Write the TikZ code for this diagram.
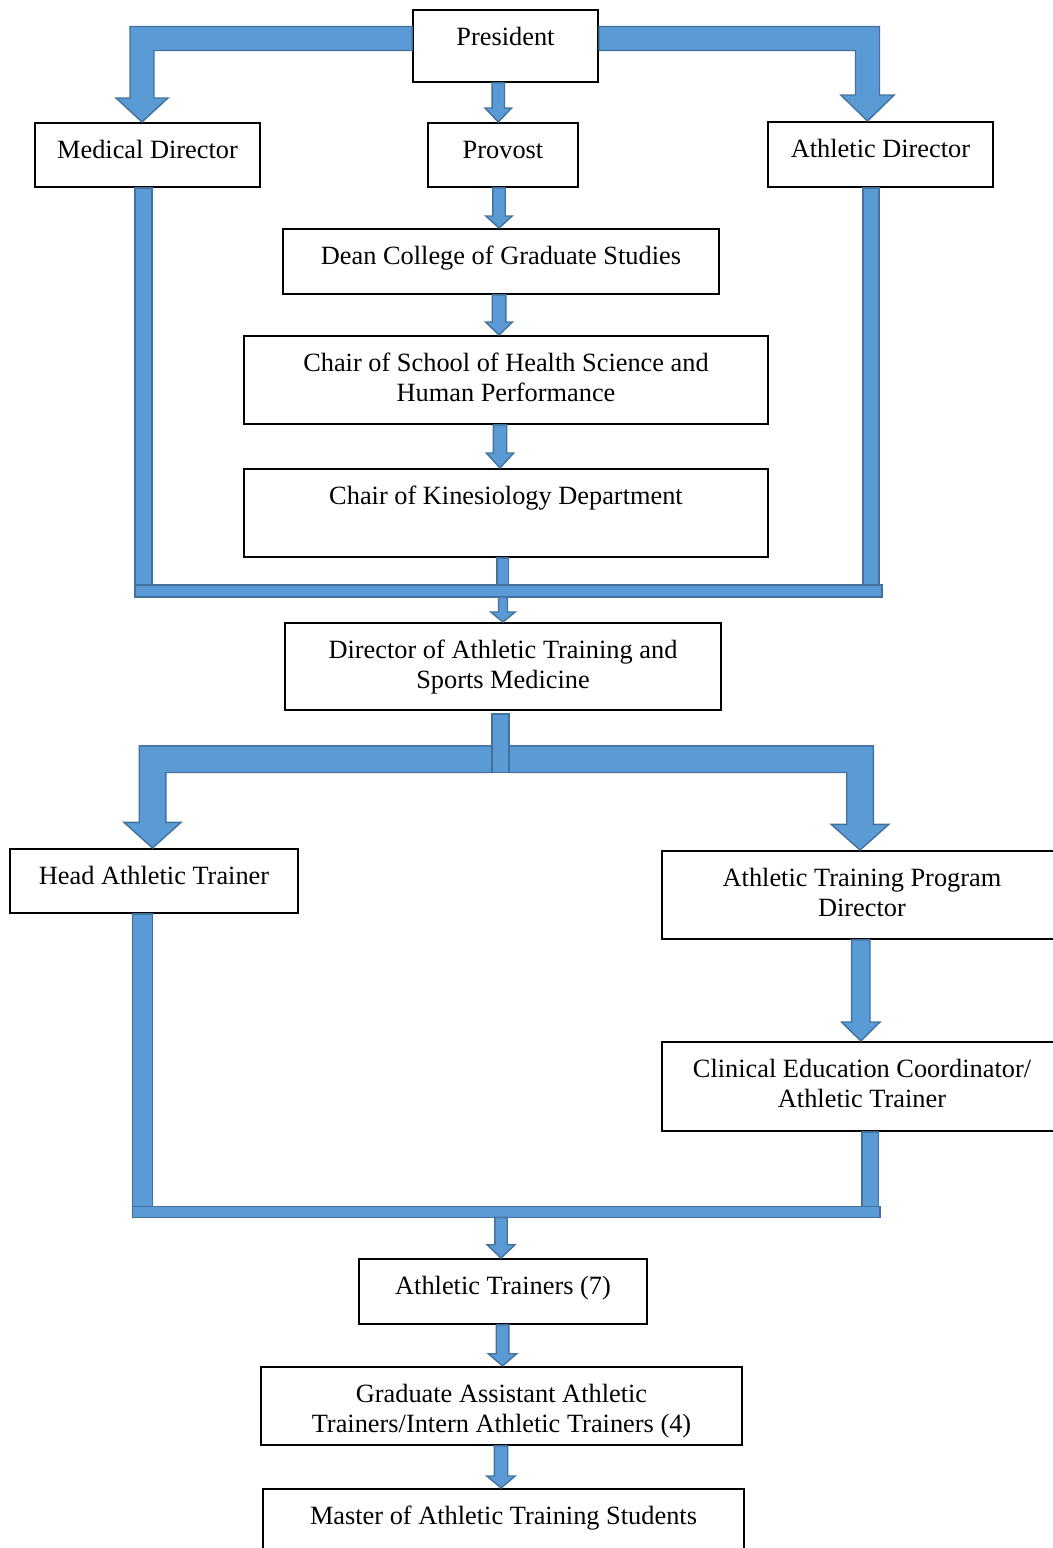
\documentclass[tikz,border=0pt]{standalone}
\usepackage{fontspec}
\setmainfont{Liberation Serif}
\usetikzlibrary{calc}

\definecolor{arrowfill}{HTML}{5B9BD5}
\definecolor{arrowline}{HTML}{41719C}

% one pixel of the layout
\def\pxu{0.569pt}

% straight block arrow: from, to, shaft half width, head half width, head length
\newcommand\blockdown[5]{%
    \draw [blockarrow] let \p1=(#1), \p2=(#2) in
        ({\x1-#3*\pxu},\y1) -- ({\x1+#3*\pxu},\y1) -- ({\x1+#3*\pxu},{\y2+#5*\pxu})
        -- ({\x1+#4*\pxu},{\y2+#5*\pxu}) -- (\x1,\y2) -- ({\x1-#4*\pxu},{\y2+#5*\pxu})
        -- ({\x1-#3*\pxu},{\y2+#5*\pxu}) -- cycle;}

% bent block arrow: start, tip, band half width, head half width, head length, side
\newcommand\blockelbow[6]{%
    \draw [blockarrow] let \p1=(#1), \p2=(#2) in
        (\x1,{\y1+#3*\pxu}) -- ({\x2+(#6)*#3*\pxu},{\y1+#3*\pxu})
        -- ({\x2+(#6)*#3*\pxu},{\y2+#5*\pxu}) -- ({\x2+(#6)*#4*\pxu},{\y2+#5*\pxu})
        -- (\x2,\y2) -- ({\x2-(#6)*#4*\pxu},{\y2+#5*\pxu})
        -- ({\x2-(#6)*#3*\pxu},{\y2+#5*\pxu}) -- ({\x2-(#6)*#3*\pxu},{\y1-#3*\pxu})
        -- (\x1,{\y1-#3*\pxu}) -- cycle;}

% plain bar going down: top, bottom level, half width
\newcommand\blockbar[3]{%
    \draw [blockarrow] let \p1=(#1), \p2=(#2) in
        ({\x1-#3*\pxu},\y1) rectangle ({\x1+#3*\pxu},\y2);}

\begin{document}
\begin{tikzpicture}[x=0.02cm, y=-0.02cm,
    box/.style={draw, line width=1.1pt, fill=white, inner sep=0pt, anchor=north,
        align=flush center, text height=0.72cm, font=\fontsize{15}{17}\selectfont},
    blockarrow/.style={draw=arrowline, fill=arrowfill, line width=0.8pt}]
    \path [use as bounding box, clip] (0,0) rectangle (1053,1548);

    % Boxes
    \node (pres) [box, text width=3.7cm, text depth=0.72cm] at (505.5,9) {President};
    \node (med) [box, text width=4.5cm, text depth=0.56cm] at (147.5,122) {Medical Director};
    \node (prov) [box, text width=3cm, text depth=0.56cm] at (503,122) {Provost};
    \node (athd) [box, text width=4.5cm, text depth=0.58cm] at (880.5,121) {Athletic Director};
    \node (dean) [box, text width=8.72cm, text depth=0.58cm] at (501,228)
        {Dean College of Graduate Studies};
    \node (chs) [box, text width=10.48cm, text depth=1.04cm] at (506,335)
        {Chair of School of Health Science and\\Human Performance};
    \node (kin) [box, text width=10.48cm, text depth=1.04cm] at (506,468)
        {Chair of Kinesiology Department};
    \node (datsm) [box, text width=8.72cm, text depth=1.02cm] at (503,622)
        {Director of Athletic Training and\\Sports Medicine};
    \node (hat) [box, text width=5.76cm, text depth=0.56cm] at (154,848) {Head Athletic Trainer};
    \node (atpd) [box, text width=8cm, text depth=1.04cm] at (862,850)
        {Athletic Training Program\\Director};
    \node (ced) [box, text width=8cm, text depth=1.06cm] at (862,1041)
        {Clinical Education Coordinator/\\Athletic Trainer};
    \node (at7) [box, text width=5.76cm, text depth=0.58cm] at (503,1258) {Athletic Trainers (7)};
    \node (ga) [box, text width=9.62cm, text depth=0.84cm] at (501.5,1366)
        {Graduate Assistant Athletic\\Trainers/Intern Athletic Trainers (4)};
    \node (mats) [box, text width=9.62cm, text depth=1.04cm] at (503.5,1488)
        {Master of Athletic Training Students};

    % Ends of the joining bars
    \coordinate (topL) at (135,585);
    \coordinate (topR) at (882,597);
    \coordinate (botL) at (132.7,1206.7);
    \coordinate (botR) at (880,1217.3);

    % From the president
    \blockelbow{$(pres.west)+(0,-7.5)$}{$(med.north)+(-5.5,0)$}{12}{26}{24}{-1}
    \blockelbow{$(pres.east)+(0,-7.5)$}{$(athd.north)+(-13,0)$}{12}{26.7}{26}{1}
    \blockdown{$(pres.south)+(-7.2,0)$}{prov.north}{6.2}{13.3}{14}
    \blockdown{$(prov.south)+(-4,0)$}{dean.north}{6.2}{13.2}{12}
    \blockdown{$(dean.south)+(-2,0)$}{chs.north}{6.8}{13.5}{13}
    \blockdown{$(chs.south)+(-6,0)$}{kin.north}{6.7}{13.7}{15}

    % Joining above the director
    \blockbar{$(med.south)+(-4,0)$}{topL}{8.5}
    \blockbar{$(athd.south)+(-9.5,0)$}{topL}{8}
    \blockbar{$(kin.south)+(-3.5,0)$}{topL}{5.7}
    \draw [blockarrow] (topL) rectangle (topR);
    \blockdown{datsm.north |- topR}{datsm.north}{4.5}{12.2}{10}

    % Split below the director
    \blockelbow{$(datsm.south)+(-11,48.3)$}{$(hat.north)+(-1.5,0)$}{13.3}{28.5}{25.6}{-1}
    \blockelbow{$(datsm.south)+(6,48.3)$}{$(atpd.north)+(-2,0)$}{13.3}{28.8}{25.6}{1}
    \blockbar{$(datsm.south)+(-2.5,3)$}{$(datsm.south)+(0,61.7)$}{8.5}
    \blockdown{$(atpd.south)+(-1.2,0)$}{ced.north}{9.2}{19.2}{19}

    % Joining above the trainers
    \blockbar{$(hat.south)+(-11.7,0)$}{botL}{10}
    \blockbar{$(ced.south)+(8.3,0)$}{botL}{8.3}
    \draw [blockarrow] (botL) rectangle (botR);
    \blockdown{$(at7.north |- botR)+(-2,0)$}{at7.north}{6.2}{14}{13.3}
    \blockdown{$(at7.south)+(-0.5,0)$}{ga.north}{6.3}{14.2}{12.3}
    \blockdown{$(ga.south)+(-0.5,0)$}{mats.north}{6.7}{14.2}{12}
\end{tikzpicture}
\end{document}
